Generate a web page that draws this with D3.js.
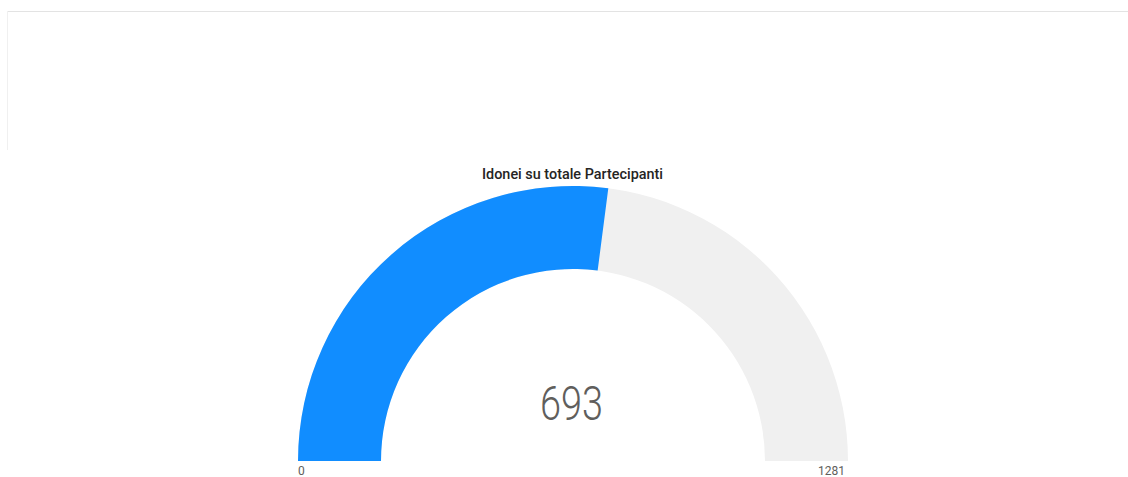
<!DOCTYPE html>
<html><head><meta charset="utf-8">
<script src="https://cdn.jsdelivr.net/npm/d3@7"></script>
<style>html,body{margin:0;padding:0;background:#fff;overflow:hidden}</style>
</head><body>
<svg id="c" width="1128" height="477"></svg>
<script>
const title = "Idonei su totale Partecipanti";
const gaugeMin = 0;
const gaugeMax = 1281;
const gaugeValue = 693;
const tickLabels = ["0", "1281"];

const svg = d3.select("#c");
// frame lines
svg.append("line").attr("x1",7).attr("x2",1128).attr("y1",11.5).attr("y2",11.5).attr("stroke","#e3e3e3").attr("stroke-width",1);
svg.append("line").attr("x1",7.5).attr("x2",7.5).attr("y1",11).attr("y2",150).attr("stroke","#f0f0f0").attr("stroke-width",1);

const cx = 573, cy = 461, rOut = 275, rIn = 192;
const ang = d3.scaleLinear().domain([gaugeMin, gaugeMax]).range([-Math.PI/2, Math.PI/2]);
const arc = d3.arc().innerRadius(rIn).outerRadius(rOut);
const g = svg.append("g").attr("transform",`translate(${cx},${cy})`);
g.append("path").attr("d", arc({startAngle: ang(gaugeMin), endAngle: ang(gaugeMax)})).attr("fill","#f0f0f0");
g.append("path").attr("d", arc({startAngle: ang(gaugeMin), endAngle: ang(gaugeValue)})).attr("fill","#118dff");

svg.append("text").attr("x",572.5).attr("y",179).attr("text-anchor","middle")
  .attr("font-family","Roboto, 'Noto Sans', sans-serif").attr("font-weight",500).attr("font-size",14).attr("fill","#252423")
  .attr("textLength",181).attr("lengthAdjust","spacingAndGlyphs").text(title);

svg.append("text").attr("x",571.5).attr("y",420).attr("text-anchor","middle")
  .attr("font-family","Roboto, sans-serif").attr("font-weight",300).attr("font-size",49).attr("fill","#605e5c")
  .attr("textLength",63).attr("lengthAdjust","spacingAndGlyphs").text(gaugeValue);

const lab = d3.scaleLinear().domain([gaugeMin, gaugeMax]).range([cx - rOut, cx + rOut]);
svg.append("text").attr("x",lab(gaugeMin)).attr("y",475).attr("text-anchor","start")
  .attr("font-family","Roboto, sans-serif").attr("font-size",12).attr("fill","#605e5c").text(tickLabels[0]);
svg.append("text").attr("x",lab(gaugeMax)-3).attr("y",475).attr("text-anchor","end")
  .attr("font-family","Roboto, sans-serif").attr("font-size",12).attr("fill","#605e5c").text(tickLabels[1]);
</script>
</body></html>
